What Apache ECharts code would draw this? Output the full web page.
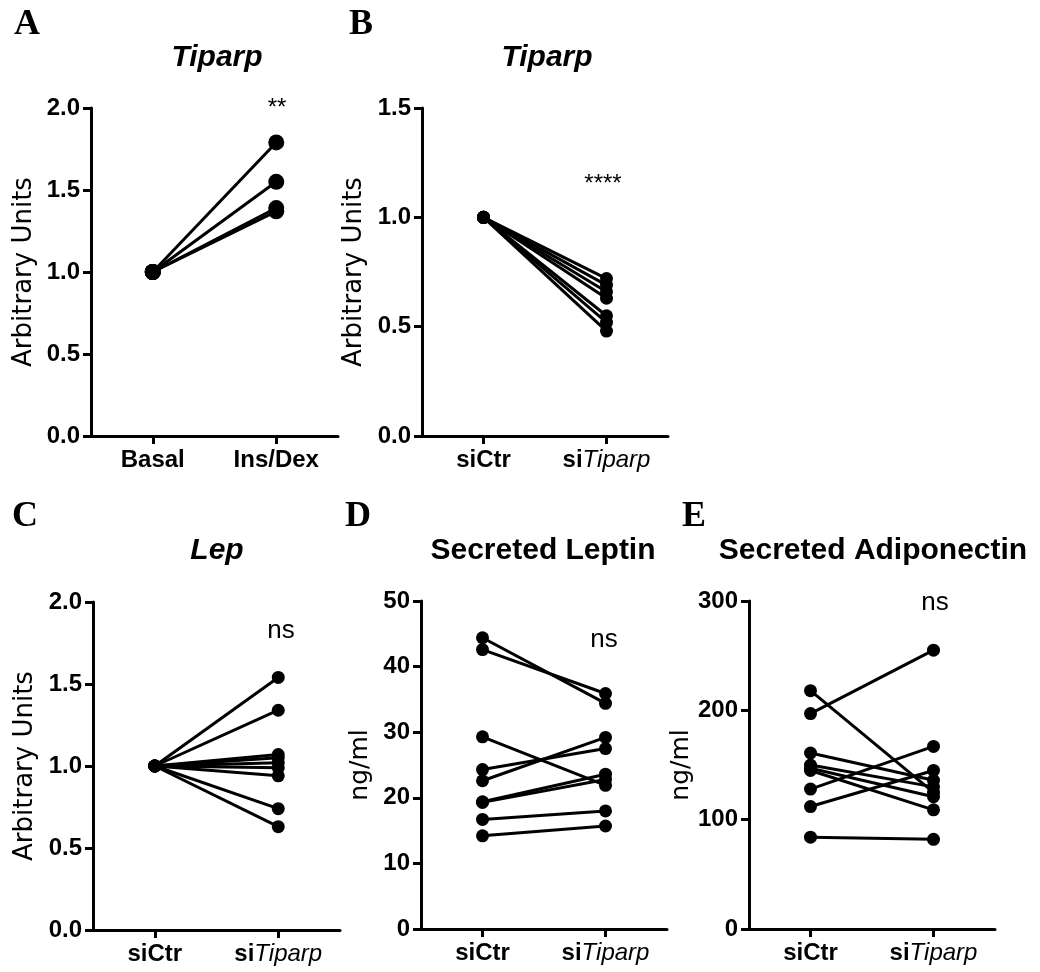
<!DOCTYPE html>
<html>
<head>
<meta charset="utf-8">
<script src="https://cdn.jsdelivr.net/npm/echarts@6/dist/echarts.min.js"></script>
<style>
html,body{margin:0;padding:0;background:#fff;}
#chart{width:1040px;height:972px;}
</style>
</head>
<body>
<div id="chart"></div>
<script>
// ---- data ----
const catsA = ['Basal', 'Ins/Dex'];
const catsSi = ['siCtr', 'siTiparp'];

const aBasal  = [1.0, 1.0, 1.0, 1.0];
const aInsDex = [1.79, 1.55, 1.39, 1.37];

const bSiCtr    = [1.0, 1.0, 1.0, 1.0, 1.0, 1.0, 1.0];
const bSiTiparp = [0.72, 0.69, 0.66, 0.63, 0.55, 0.52, 0.48];

const cSiCtr    = [1.0, 1.0, 1.0, 1.0, 1.0, 1.0, 1.0, 1.0, 1.0];
const cSiTiparp = [1.54, 1.34, 1.07, 1.05, 1.02, 0.99, 0.94, 0.74, 0.63];

const dSiCtr    = [44.4, 42.6, 29.3, 24.3, 22.6, 19.4, 19.3, 16.7, 14.2];
const dSiTiparp = [34.4, 35.9, 21.9, 27.5, 29.2, 23.6, 22.8, 18.0, 15.7];

const eSiCtr    = [218, 197, 161, 150, 147, 145, 128, 112, 84];
const eSiTiparp = [125, 255, 136, 130, 121, 109, 167, 145, 82];

const panelTitles = ['Tiparp', 'Tiparp', 'Lep', 'Secreted Leptin', 'Secreted Adiponectin'];
const panelLetters = ['A', 'B', 'C', 'D', 'E'];
const signif = ['**', '****', 'ns', 'ns', 'ns'];
const yNames = ['Arbitrary Units', 'Arbitrary Units', 'Arbitrary Units', 'ng/ml', 'ng/ml'];
const yMax = [2.0, 1.5, 2.0, 50, 300];
const yInterval = [0.5, 0.5, 0.5, 10, 100];
const yDecimals = [1, 1, 1, 0, 0];

// ---- layout ----
const SANS = '"Liberation Sans", Arial, sans-serif';
const DEJAVU = '"DejaVu Sans", sans-serif';
const SERIF = '"Liberation Serif", "Times New Roman", serif';

const grids = [
  {left: 91,  top: 108, width: 247, height: 328},
  {left: 422, top: 108, width: 246, height: 328},
  {left: 93,  top: 602, width: 247, height: 328},
  {left: 421, top: 601, width: 246, height: 328},
  {left: 749, top: 601, width: 246, height: 328}
];
const nameGaps = [54, 55, 55, 48, 48];
const nameSizes = [26, 26, 26, 25, 25];
const symSizes = [16, 13, 13, 13, 13];
const titlePos = [[217, 58], [547, 58], [217, 551], [543, 551], [873, 551]];
const titleItalic = [true, true, true, false, false];
const letterPos = [[27, 25], [361, 25], [25, 517], [358, 517], [694, 517]];
const signifPos = [[277, 108], [603, 184], [281, 631], [604, 640], [935, 603]];

const pairs = [
  [catsA, aBasal, aInsDex],
  [catsSi, bSiCtr, bSiTiparp],
  [catsSi, cSiCtr, cSiTiparp],
  [catsSi, dSiCtr, dSiTiparp],
  [catsSi, eSiCtr, eSiTiparp]
];

const xAxes = [], yAxes = [], series = [], graphics = [];
pairs.forEach((p, i) => {
  const cats = p[0];
  xAxes.push({
    type: 'category', gridIndex: i, data: cats, boundaryGap: true,
    axisLine: {show: true, lineStyle: {color: '#000', width: 3}},
    axisTick: {show: true, alignWithLabel: true, length: 8, lineStyle: {color: '#000', width: 3}},
    splitLine: {show: false},
    axisLabel: {
      margin: 12, color: '#000',
      formatter: v => v === 'siTiparp' ? '{b|si}{i|Tiparp}' : '{b|' + v + '}',
      rich: {
        b: {fontFamily: SANS, fontWeight: 'bold', fontSize: 24, color: '#000'},
        i: {fontFamily: SANS, fontStyle: 'italic', fontWeight: 'normal', fontSize: 24, color: '#000'}
      }
    }
  });
  yAxes.push({
    type: 'value', gridIndex: i, min: 0, max: yMax[i], interval: yInterval[i],
    axisLine: {show: true, lineStyle: {color: '#000', width: 3}},
    axisTick: {show: true, length: 8, lineStyle: {color: '#000', width: 3}},
    splitLine: {show: false},
    axisLabel: {
      margin: 11, color: '#000', fontFamily: SANS, fontWeight: 'bold', fontSize: 24,
      formatter: v => v.toFixed(yDecimals[i])
    },
    name: yNames[i], nameLocation: 'middle', nameGap: nameGaps[i],
    nameTextStyle: {fontFamily: DEJAVU, fontSize: nameSizes[i], color: '#000'}
  });
  const left = p[1], right = p[2];
  for (let k = 0; k < left.length; k++) {
    series.push({
      type: 'line', xAxisIndex: i, yAxisIndex: i,
      data: [left[k], right[k]],
      symbol: 'circle', symbolSize: symSizes[i], showSymbol: true,
      lineStyle: {color: '#000', width: 3},
      itemStyle: {color: '#000'},
      silent: true, animation: false
    });
  }
  graphics.push({
    type: 'text', x: titlePos[i][0], y: titlePos[i][1],
    style: {
      text: panelTitles[i], fill: '#000',
      font: (titleItalic[i] ? 'italic ' : '') + 'bold 30px ' + SANS,
      textAlign: 'center', textVerticalAlign: 'middle', align: 'center', verticalAlign: 'middle'
    }
  });
  graphics.push({
    type: 'text', x: letterPos[i][0], y: letterPos[i][1],
    style: {
      text: panelLetters[i], fill: '#000', font: 'bold 36px ' + SERIF,
      textAlign: 'center', textVerticalAlign: 'middle', align: 'center', verticalAlign: 'middle'
    }
  });
  const isStar = signif[i].indexOf('*') >= 0;
  graphics.push({
    type: 'text', x: signifPos[i][0], y: signifPos[i][1],
    style: {
      text: signif[i], fill: '#000', font: (isStar ? '24px ' : '26px ') + SANS,
      textAlign: 'center', textVerticalAlign: 'middle', align: 'center', verticalAlign: 'middle'
    }
  });
});

const chart = echarts.init(document.getElementById('chart'), null, {renderer: 'canvas'});
chart.setOption({
  backgroundColor: '#fff',
  animation: false,
  grid: grids,
  xAxis: xAxes,
  yAxis: yAxes,
  series: series,
  graphic: graphics
});
</script>
</body>
</html>
